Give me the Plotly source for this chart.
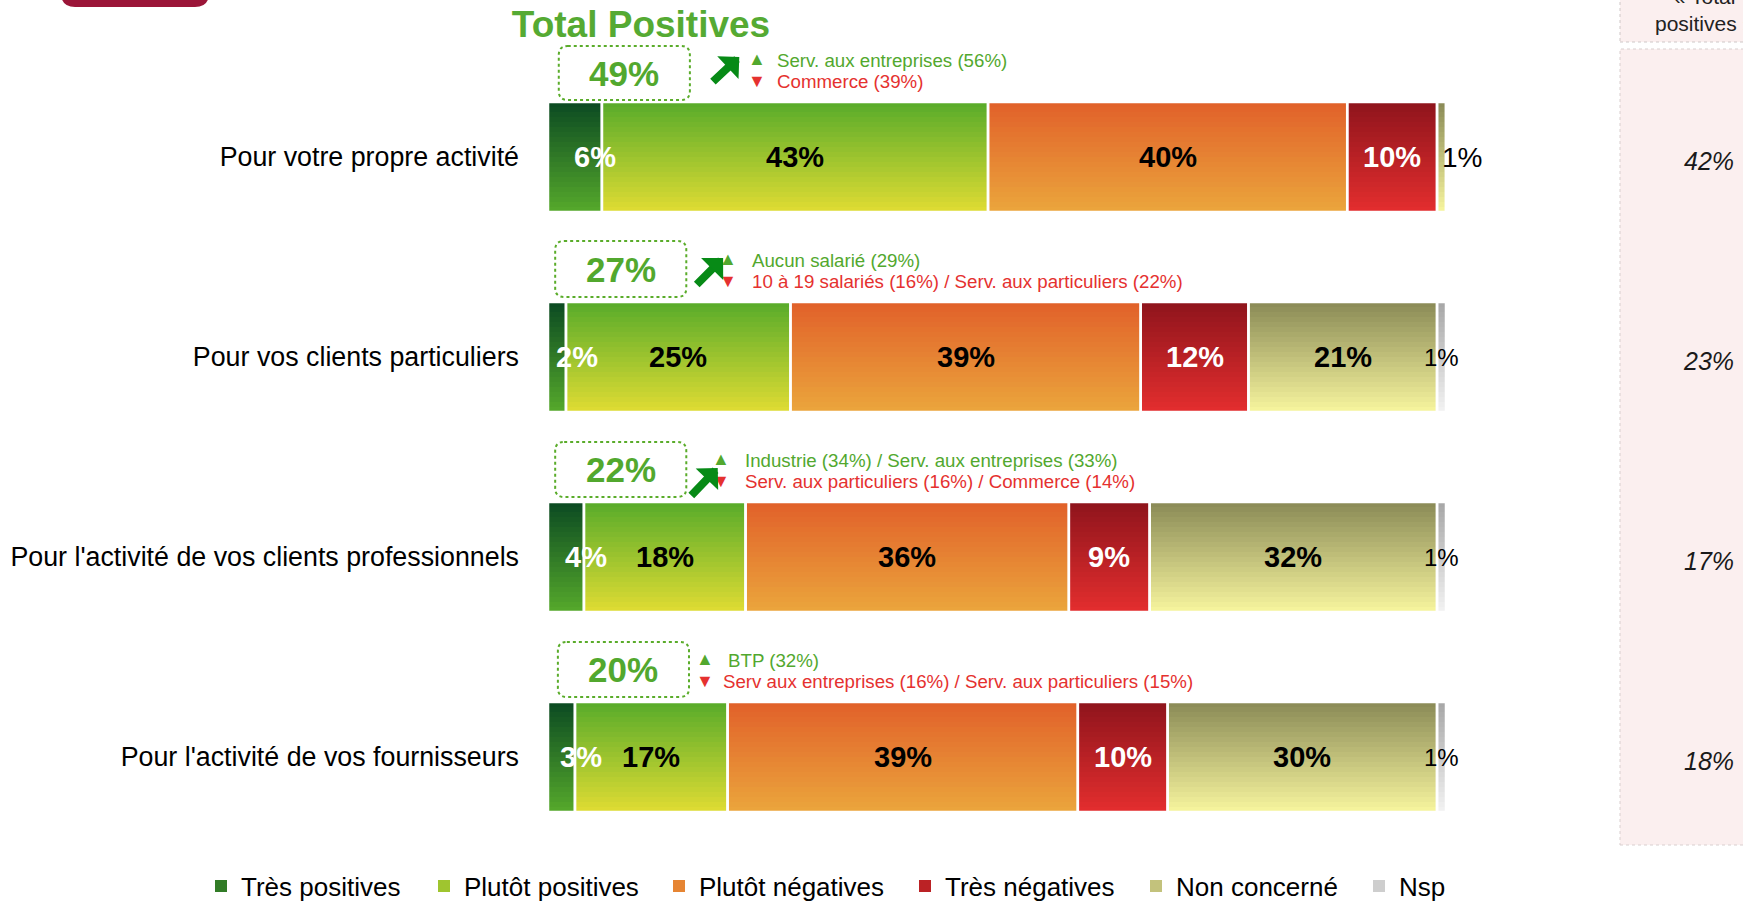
import plotly.graph_objects as go

# ---------------- data ----------------
categories = [
    "Pour votre propre activité",
    "Pour vos clients particuliers",
    "Pour l'activité de vos clients professionnels",
    "Pour l'activité de vos fournisseurs",
]
series_names = ["Très positives", "Plutôt positives", "Plutôt négatives",
                "Très négatives", "Non concerné", "Nsp"]
tres_positives = [6, 2, 4, 3]
plutot_positives = [43, 25, 18, 17]
plutot_negatives = [40, 39, 36, 39]
tres_negatives = [10, 12, 9, 10]
non_concerne = [1, 21, 32, 30]
nsp = [0, 1, 1, 1]
total_positives = [49, 27, 22, 20]
total_positives_prev = [42, 23, 17, 18]
hausse_text = ["Serv. aux entreprises (56%)",
               "Aucun salarié (29%)",
               "Industrie (34%) / Serv. aux entreprises (33%)",
               "BTP (32%)"]
baisse_text = ["Commerce (39%)",
               "10 à 19 salariés (16%) / Serv. aux particuliers (22%)",
               "Serv. aux particuliers (16%) / Commerce (14%)",
               "Serv aux entreprises (16%) / Serv. aux particuliers (15%)"]
trend_up = [True, True, True, False]

series_values = [tres_positives, plutot_positives, plutot_negatives,
                 tres_negatives, non_concerne, nsp]

# ---------------- styles / layout geometry ----------------
FONT = "Liberation Sans, Arial, sans-serif"
GREEN_TXT = "#52a82e"
RED_TXT = "#e5312f"
ARROW_GREEN = "#078a16"
grad = [("#0b4a22", "#56a92b"),
        ("#58ab2a", "#e0dc33"),
        ("#e1602a", "#eba63c"),
        ("#8e141c", "#e42e2e"),
        ("#8a8a56", "#f7f59e"),
        ("#a6a6a6", "#f3f3f3")]
legend_widths = [178, 190, 201, 186, 178, 60]
BAR_W = 0.55
N_BANDS = 22

M_L, M_R, M_T, M_B = 548, 297, 45, 44
FIG_W, FIG_H = 1743, 901
PLOT_H = FIG_H - M_T - M_B
PLOT_W = FIG_W - M_L - M_R


def py(px):  # figure pixel row -> paper y
    return (FIG_H - M_B - px) / PLOT_H


def pxx(px):  # figure pixel column -> paper x
    return (px - M_L) / PLOT_W


def hex2rgb(h):
    h = h.lstrip("#")
    return tuple(int(h[i:i + 2], 16) for i in (0, 2, 4))


def mix(c1, c2, t):
    a, b = hex2rgb(c1), hex2rgb(c2)
    return "rgb(%d,%d,%d)" % tuple(round(a[k] + (b[k] - a[k]) * t) for k in range(3))


ypos = list(range(len(categories)))

# cumulative bases
bases = []
run = [0] * len(categories)
for vals in series_values:
    bases.append(list(run))
    run = [r + v for r, v in zip(run, vals)]

fig = go.Figure()

# gradient bars: each segment drawn as overlapping horizontal bands of bar traces
for s, vals in enumerate(series_values):
    top, bot = grad[s]
    bw = BAR_W / N_BANDS
    for b in range(N_BANDS):
        t = (b + 0.5) / N_BANDS
        show = b == N_BANDS // 2
        w = bw if b == N_BANDS - 1 else bw * 1.8
        fig.add_trace(go.Bar(
            x=vals, y=ypos, base=bases[s], orientation="h",
            width=w, offset=-BAR_W / 2 + b * bw,
            marker=dict(color=mix(top, bot, t), line=dict(width=0)),
            name=series_names[s], legendgroup=series_names[s],
            showlegend=show, legendwidth=legend_widths[s] if show else None,
            hoverinfo="skip",
        ))

# white separators / outlines
for s, vals in enumerate(series_values):
    fig.add_trace(go.Bar(
        x=vals, y=ypos, base=bases[s], orientation="h", width=BAR_W,
        marker=dict(color="rgba(0,0,0,0)", line=dict(color="white", width=2.5)),
        showlegend=False, hoverinfo="skip", legendgroup=series_names[s],
    ))

annotations = []
LBL = 29
# segment labels
for s, vals in enumerate(series_values):
    for i, v in enumerate(vals):
        if v == 0:
            continue
        start = bases[s][i]
        center = start + v / 2
        txt = f"{v}%"
        if s == 0:
            annotations.append(dict(x=center, y=i, xref="x", yref="y", text=f"<b>{txt}</b>",
                                    showarrow=False, xshift=20,
                                    font=dict(size=LBL, color="white", family=FONT)))
        elif s == 3:
            annotations.append(dict(x=center, y=i, xref="x", yref="y", text=f"<b>{txt}</b>",
                                    showarrow=False,
                                    font=dict(size=LBL, color="white", family=FONT)))
        elif v <= 1:
            if s == 4:
                annotations.append(dict(x=center, y=i, xref="x", yref="y", text=txt,
                                        showarrow=False, xanchor="left", xshift=-2,
                                        font=dict(size=28, color="black", family=FONT)))
            else:
                annotations.append(dict(x=center, y=i, xref="x", yref="y", text=txt,
                                        showarrow=False, xanchor="center",
                                        font=dict(size=24, color="black", family=FONT)))
        else:
            annotations.append(dict(x=center, y=i, xref="x", yref="y", text=f"<b>{txt}</b>",
                                    showarrow=False,
                                    font=dict(size=LBL, color="black", family=FONT)))

# total positives boxes + sub-group notes
box_x0 = [1.2, 0.8, 0.8, 1.1]
box_x1 = [15.8, 15.4, 15.4, 15.7]
box_y0 = [-0.555, -0.58, -0.575, -0.575]
box_y1 = [-0.285, -0.30, -0.30, -0.30]
tri_x = [23.3, 20.0, 19.3, 17.5]
up_txt_x = [25.3, 22.5, 21.7, 19.8]
dn_txt_x = [25.3, 22.5, 21.7, 19.3]
arrow_head = [(21.3, -0.50), (19.5, -0.495), (18.9, -0.445), None]
arrow_tail = [(18.2, -0.37), (16.4, -0.355), (15.8, -0.30), None]
RX, RY = 1.0, 0.045

shapes = []


def rounded(x0, x1, y0, y1, rx, ry):
    return (f"M{x0+rx},{y0} L{x1-rx},{y0} Q{x1},{y0} {x1},{y0+ry} L{x1},{y1-ry} "
            f"Q{x1},{y1} {x1-rx},{y1} L{x0+rx},{y1} Q{x0},{y1} {x0},{y1-ry} "
            f"L{x0},{y0+ry} Q{x0},{y0} {x0+rx},{y0} Z")


for i in ypos:
    y0, y1 = i + box_y0[i], i + box_y1[i]
    shapes.append(dict(type="path", xref="x", yref="y",
                       path=rounded(box_x0[i], box_x1[i], y0, y1, RX, RY),
                       line=dict(color="#5aac2a", width=2, dash="dot"),
                       fillcolor="rgba(0,0,0,0)", layer="above"))
    annotations.append(dict(x=(box_x0[i] + box_x1[i]) / 2, y=(y0 + y1) / 2, xref="x", yref="y",
                            text=f"<b>{total_positives[i]}%</b>", showarrow=False,
                            font=dict(size=35, color=GREEN_TXT, family=FONT)))
    # triangles + texts
    annotations.append(dict(x=tri_x[i], y=i - 0.488, xref="x", yref="y", text="▲",
                            showarrow=False, xanchor="center", yanchor="middle",
                            font=dict(size=18, color=GREEN_TXT, family=FONT)))
    annotations.append(dict(x=up_txt_x[i], y=i - 0.485, xref="x", yref="y", text=hausse_text[i],
                            showarrow=False, xanchor="left", yanchor="middle",
                            font=dict(size=18.7, color=GREEN_TXT, family=FONT)))
    annotations.append(dict(x=tri_x[i], y=i - 0.378, xref="x", yref="y", text="▼",
                            showarrow=False, xanchor="center", yanchor="middle",
                            font=dict(size=18, color=RED_TXT, family=FONT)))
    annotations.append(dict(x=dn_txt_x[i], y=i - 0.378, xref="x", yref="y", text=baisse_text[i],
                            showarrow=False, xanchor="left", yanchor="middle",
                            font=dict(size=18.7, color=RED_TXT, family=FONT)))
    if trend_up[i]:
        hx, hy = arrow_head[i]
        tx, ty = arrow_tail[i]
        annotations.append(dict(x=hx, y=i + hy, xref="x", yref="y",
                                ax=tx, ay=i + ty, axref="x", ayref="y",
                                text="", showarrow=True, arrowhead=1, arrowsize=0.65,
                                arrowwidth=8, arrowcolor=ARROW_GREEN))

# right panel (previous wave)
PX0, PX1 = pxx(1620), pxx(1800)
shapes.append(dict(type="rect", xref="paper", yref="paper", x0=PX0, x1=PX1, y0=py(845), y1=py(49),
                   fillcolor="#fbefef", line=dict(color="#d9cfcf", width=1, dash="dot"), layer="below"))
shapes.append(dict(type="rect", xref="paper", yref="paper", x0=PX0, x1=PX1, y0=py(42), y1=py(-20),
                   fillcolor="#fbefef", line=dict(color="#cfc7c7", width=1, dash="dot"), layer="below"))
annotations.append(dict(x=pxx(1704), y=py(10), xref="paper", yref="paper",
                        xanchor="center", yanchor="middle",
                        text="« Total<br>positives »", showarrow=False,
                        font=dict(size=21, color="#222222", family=FONT)))
for i in ypos:
    annotations.append(dict(x=pxx(1736), y=i, xref="paper", yref="y", yshift=-4,
                            text=f"<i>{total_positives_prev[i]}%</i>", showarrow=False,
                            xanchor="right", yanchor="middle",
                            font=dict(size=25, color="#1a1a1a", family=FONT)))

# top-left dark red tab
bx0, bx1 = pxx(61), pxx(209)
bbot, btop = py(7), py(-60)
brx, bry = 14 / PLOT_W, 14 / PLOT_H
shapes.append(dict(type="path", xref="paper", yref="paper",
                   path=(f"M{bx0},{btop} L{bx1},{btop} L{bx1},{bbot+bry} Q{bx1},{bbot} {bx1-brx},{bbot} "
                         f"L{bx0+brx},{bbot} Q{bx0},{bbot} {bx0},{bbot+bry} Z"),
                   fillcolor="#9b1538", line=dict(width=0)))

fig.update_layout(
    barmode="overlay",
    width=FIG_W, height=FIG_H,
    margin=dict(l=M_L, r=M_R, t=M_T, b=M_B, autoexpand=False),
    paper_bgcolor="white", plot_bgcolor="white",
    font=dict(family=FONT, color="black"),
    title=dict(text="<b>Total Positives</b>", x=pxx(641), xref="paper", xanchor="center",
               y=1 - 24 / FIG_H, yref="container", yanchor="middle",
               font=dict(size=37, color="#55aa33", family=FONT)),
    xaxis=dict(range=[0, 100], visible=False),
    yaxis=dict(range=[3.5, -0.56], tickvals=ypos, ticktext=categories, showgrid=False,
               zeroline=False, showline=False, ticks="", ticklabelstandoff=28,
               tickfont=dict(size=26.8, color="black", family=FONT)),
    legend=dict(orientation="h", x=pxx(201), xanchor="left", y=py(886), yanchor="middle",
                font=dict(size=26, color="black", family=FONT), bgcolor="rgba(0,0,0,0)",
                traceorder="normal"),
    shapes=shapes,
    annotations=annotations,
    showlegend=True,
)

fig.write_html("out.html",
               config={"displayModeBar": False},
               post_script="document.body.style.margin='0px';"
                           "document.documentElement.style.overflow='hidden';")
